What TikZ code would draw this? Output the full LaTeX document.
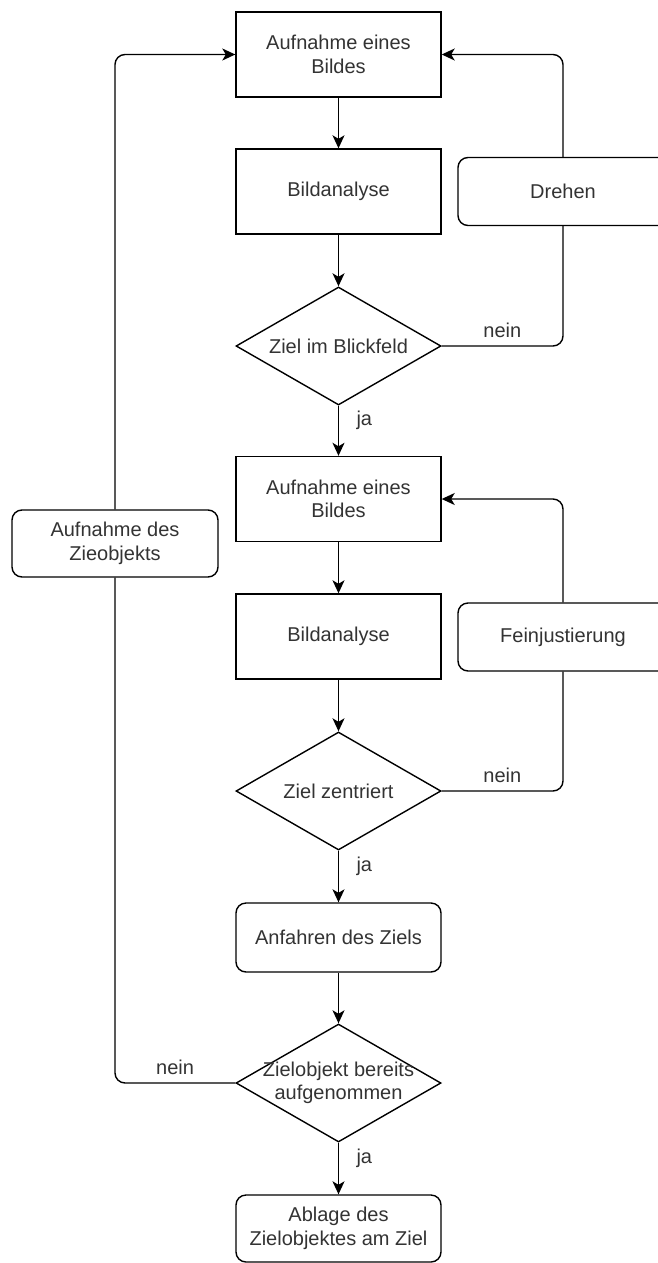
\documentclass[tikz,border=0pt]{standalone}
\usepackage{fontspec}
\setmainfont{Liberation Sans}
\usepackage{tikz}
\usetikzlibrary{positioning,arrows.meta,shapes.geometric}
\definecolor{txt}{HTML}{333333}
\newcommand{\flowfont}{\fontsize{20}{23.5}\selectfont}

\tikzset{
  procbox/.style={draw,line width=1.4pt,minimum width=205pt,minimum height=85pt,
    align=center,inner sep=2pt,font=\flowfont,text=txt},
  roundbox/.style={procbox,rounded corners=10pt,minimum height=68pt},
  decision/.style={draw,diamond,line width=1.4pt,minimum width=205pt,minimum height=118pt,
    inner sep=0pt,label={[font=\flowfont,text=txt,align=center]center:#1}},
  flow/.style={line width=1.4pt,rounded corners=10pt,-{Stealth[length=13pt,width=12pt,inset=3.5pt]}},
  link/.style={line width=1.4pt,rounded corners=10pt},
  answer/.style={font=\flowfont,text=txt}
}

\begin{document}
\begin{tikzpicture}[x=1pt,y=-1pt]
  \useasboundingbox (0,0) rectangle (658,1263);
  % search loop
  \node[procbox] (shot1) at (338.5,54.5) {Aufnahme eines\\Bildes};
  \node[procbox] (scan1) at (338.5,191.5) {Bildanalyse};
  \node[decision={Ziel im Blickfeld}] (seen) at (338.5,346) {};
  \node[roundbox,minimum width=210pt] (turn) at (563,191.5) {Drehen};
  % fine adjustment loop
  \node[procbox] (shot2) at (338.5,499) {Aufnahme eines\\Bildes};
  \node[procbox] (scan2) at (338.5,636.5) {Bildanalyse};
  \node[decision={Ziel zentriert}] (centre) at (338.5,791) {};
  \node[roundbox,minimum width=210pt] (adjust) at (563,637) {Feinjustierung};
  % approach and drop
  \node[roundbox,minimum height=69pt] (drive) at (338.5,937.5) {Anfahren des Ziels};
  \node[decision={Zielobjekt bereits\\aufgenommen}] (taken) at (338.5,1083) {};
  \node[roundbox,minimum height=67pt] (drop) at (338.5,1228.5) {Ablage des\\Zielobjektes am Ziel};
  \node[roundbox,minimum width=206pt,minimum height=67pt] (grab) at (115,543.5) {Aufnahme des\\Zieobjekts};

  % connectors
  \draw[flow] (shot1) -- (scan1);
  \draw[flow] (scan1) -- (seen);
  \draw[flow] (seen) -- node[answer,right=14pt,pos=0.3]{ja} (shot2);
  \draw[link] (seen.east) -| node[answer,above=4pt,pos=0.25]{nein} (turn.south);
  \draw[flow] (turn.north) |- (shot1.east);

  \draw[flow] (shot2) -- (scan2);
  \draw[flow] (scan2) -- (centre);
  \draw[flow] (centre) -- node[answer,right=14pt,pos=0.3]{ja} (drive);
  \draw[link] (centre.east) -| node[answer,above=4pt,pos=0.25]{nein} (adjust.south);
  \draw[flow] (adjust.north) |- (shot2.east);

  \draw[flow] (drive) -- (taken);
  \draw[flow] (taken) -- node[answer,right=14pt,pos=0.3]{ja} (drop);
  \draw[link] (taken.west) -| node[answer,above=4pt,pos=0.25]{nein} (grab.south);
  \draw[flow] (grab.north) |- (shot1.west);
\end{tikzpicture}
\end{document}
